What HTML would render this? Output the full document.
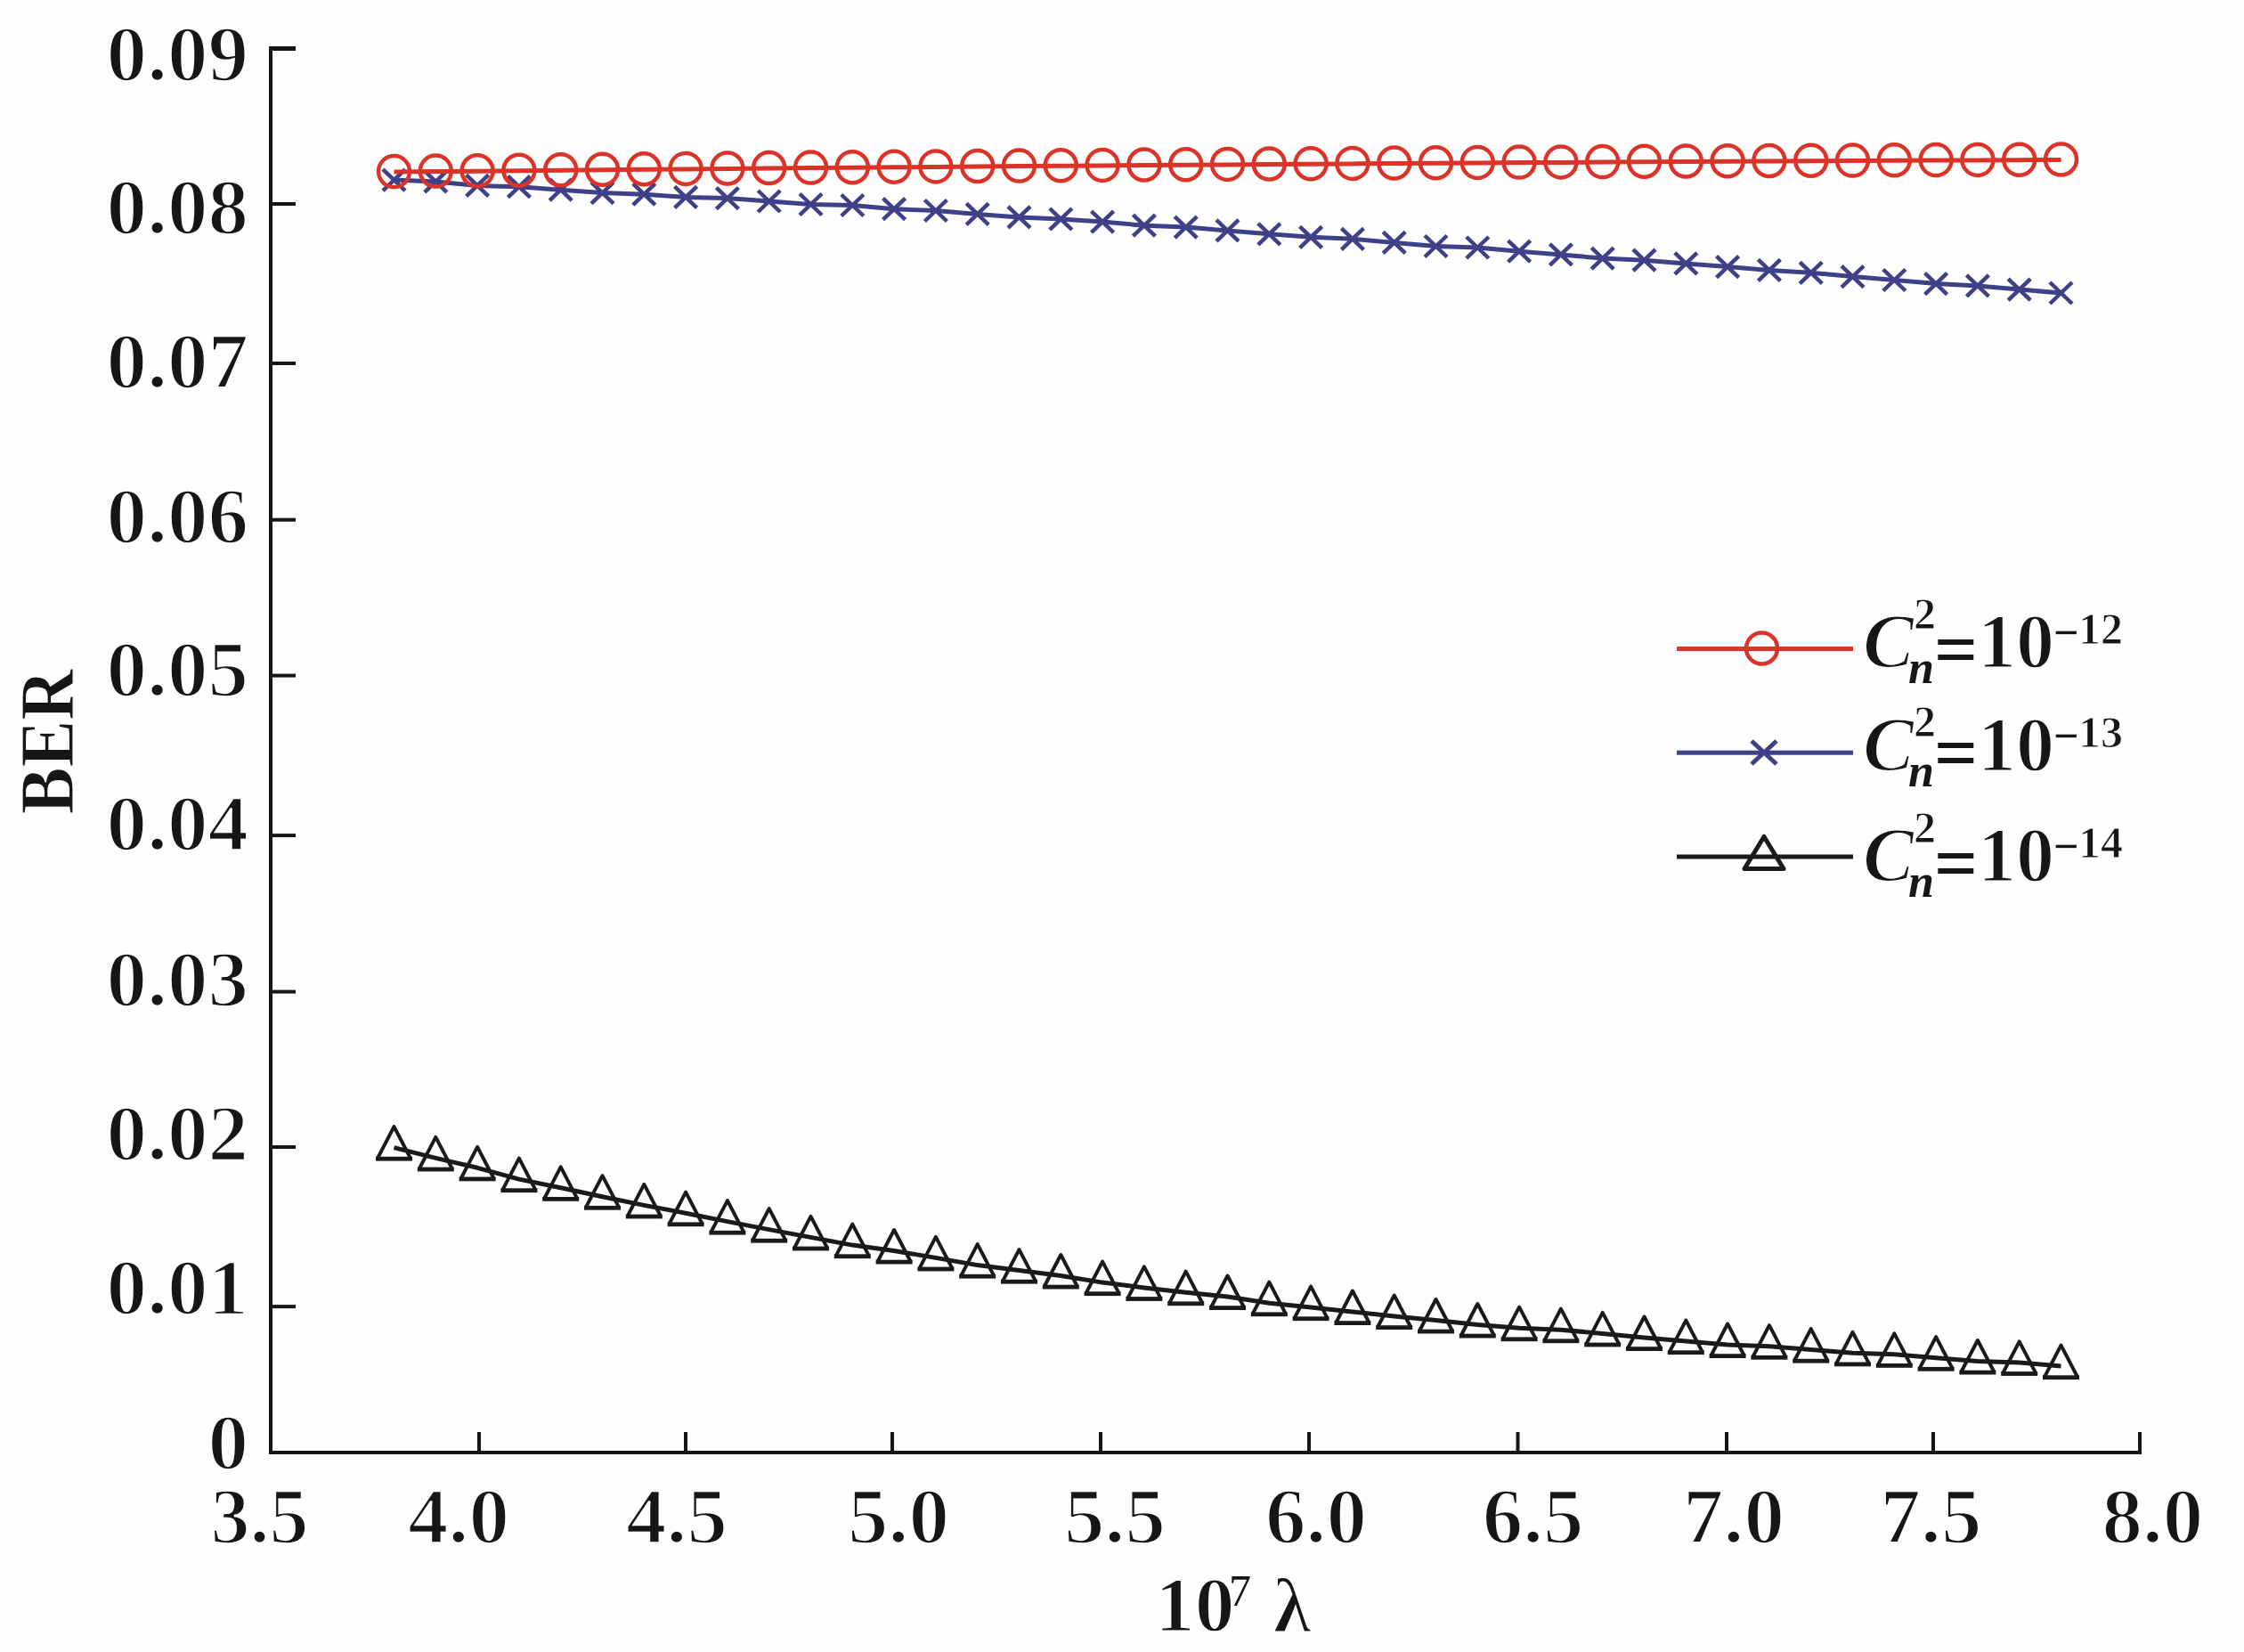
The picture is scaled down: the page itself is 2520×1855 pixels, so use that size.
<!DOCTYPE html><html><head><meta charset="utf-8"><style>html,body{margin:0;padding:0;background:#fff;} svg{display:block;} text{font-family:'Liberation Serif', serif;}</style></head><body>
<svg width="2520" height="1855" viewBox="0 0 2520 1855">
<rect width="2520" height="1855" fill="#fefefe"/>
<g fill="#161616">
<rect x="302" y="52" width="4" height="1581"/>
<rect x="302" y="1629" width="2103" height="4"/>
<rect x="304" y="52.0" width="28" height="5"/>
<rect x="304" y="227.0" width="28" height="4"/>
<rect x="304" y="406.0" width="28" height="4"/>
<rect x="304" y="581.7" width="28" height="4"/>
<rect x="304" y="756.6" width="28" height="4"/>
<rect x="304" y="936.1" width="28" height="4"/>
<rect x="304" y="1111.6" width="28" height="4"/>
<rect x="304" y="1286.0" width="28" height="4"/>
<rect x="304" y="1465.1" width="28" height="4"/>
<rect x="536.0" y="1608" width="4" height="23"/>
<rect x="768.0" y="1608" width="4" height="23"/>
<rect x="1000.0" y="1608" width="4" height="23"/>
<rect x="1234.0" y="1608" width="4" height="23"/>
<rect x="1468.0" y="1608" width="4" height="23"/>
<rect x="1702.5" y="1608" width="4" height="23"/>
<rect x="1937.0" y="1608" width="4" height="23"/>
<rect x="2169.0" y="1608" width="4" height="23"/>
<rect x="2401.0" y="1608" width="4" height="23"/>
</g>
<g font-weight="bold" font-size="88" fill="#161616" text-anchor="end" stroke="#fefefe" stroke-width="2.4">
<text transform="translate(279,89.6) scale(1.035,1)">0.09</text>
<text transform="translate(279,262.3) scale(1.035,1)">0.08</text>
<text transform="translate(279,435.0) scale(1.035,1)">0.07</text>
<text transform="translate(279,609.0) scale(1.035,1)">0.06</text>
<text transform="translate(279,781.3) scale(1.035,1)">0.05</text>
<text transform="translate(279,954.4) scale(1.035,1)">0.04</text>
<text transform="translate(279,1129.0) scale(1.035,1)">0.03</text>
<text transform="translate(279,1301.7) scale(1.035,1)">0.02</text>
<text transform="translate(279,1475.4) scale(1.035,1)">0.01</text>
<text transform="translate(279,1648.6) scale(1.035,1)">0</text>
</g>
<g font-weight="bold" font-size="88" fill="#161616" text-anchor="middle" stroke="#fefefe" stroke-width="2.4">
<text transform="translate(291.4,1732) scale(1.0,1)">3.5</text>
<text transform="translate(515.0,1732) scale(1.035,1)">4.0</text>
<text transform="translate(760.0,1732) scale(1.035,1)">4.5</text>
<text transform="translate(1009.0,1732) scale(1.035,1)">5.0</text>
<text transform="translate(1252.0,1732) scale(1.035,1)">5.5</text>
<text transform="translate(1478.0,1732) scale(1.035,1)">6.0</text>
<text transform="translate(1721.6,1732) scale(1.035,1)">6.5</text>
<text transform="translate(1947.0,1732) scale(1.035,1)">7.0</text>
<text transform="translate(2168.5,1732) scale(1.035,1)">7.5</text>
<text transform="translate(2417.4,1732) scale(1.035,1)">8.0</text>
</g>
<text transform="translate(81.5,833) rotate(-90) scale(0.92,1)" text-anchor="middle" font-weight="bold" font-size="86" fill="#161616" stroke="#fefefe" stroke-width="1.2">BER</text>
<g fill="#161616" font-size="86" stroke="#fefefe" stroke-width="2">
<text transform="translate(1297,1831) scale(1.04,1)" font-weight="bold">10</text>
<text x="1380" y="1803" font-size="50" stroke="none">7</text>
<text x="1430" y="1832" font-weight="bold">λ</text>
</g>
<polyline points="442.5,1288.6 489.3,1300.4 536.1,1311.3 582.9,1324.1 629.7,1333.8 676.5,1343.7 723.3,1353.4 770.1,1362.2 816.9,1371.6 863.7,1380.6 910.5,1389.4 957.3,1398.1 1004.1,1404.5 1050.9,1412.4 1097.7,1420.6 1144.5,1426.6 1191.3,1432.5 1238.1,1440.1 1284.9,1445.9 1331.7,1451.2 1378.5,1456.0 1425.3,1463.2 1472.1,1468.1 1518.9,1473.0 1565.7,1478.0 1612.5,1482.5 1659.3,1487.5 1706.1,1491.2 1752.9,1493.2 1799.7,1497.4 1846.5,1502.0 1893.3,1506.1 1940.1,1510.0 1986.9,1511.7 2033.7,1515.6 2080.5,1519.3 2127.3,1520.8 2174.1,1524.7 2220.9,1528.5 2267.7,1529.9 2314.5,1534.1" fill="none" stroke="#1a1a1a" stroke-width="5" stroke-linejoin="round"/>
<g fill="none" stroke="#1a1a1a" stroke-width="4" stroke-linejoin="round">
<path d="M424.0,1300.6 L442.5,1265.1 L461.0,1300.6"/>
<path d="M470.8,1312.4 L489.3,1276.9 L507.8,1312.4"/>
<path d="M517.6,1323.3 L536.1,1287.8 L554.6,1323.3"/>
<path d="M564.4,1336.1 L582.9,1300.6 L601.4,1336.1"/>
<path d="M611.2,1345.8 L629.7,1310.3 L648.2,1345.8"/>
<path d="M658.0,1355.7 L676.5,1320.2 L695.0,1355.7"/>
<path d="M704.8,1365.4 L723.3,1329.9 L741.8,1365.4"/>
<path d="M751.6,1374.2 L770.1,1338.7 L788.6,1374.2"/>
<path d="M798.4,1383.6 L816.9,1348.1 L835.4,1383.6"/>
<path d="M845.2,1392.6 L863.7,1357.1 L882.2,1392.6"/>
<path d="M892.0,1401.4 L910.5,1365.9 L929.0,1401.4"/>
<path d="M938.8,1410.1 L957.3,1374.6 L975.8,1410.1"/>
<path d="M985.6,1416.5 L1004.1,1381.0 L1022.6,1416.5"/>
<path d="M1032.4,1424.4 L1050.9,1388.9 L1069.4,1424.4"/>
<path d="M1079.2,1432.6 L1097.7,1397.1 L1116.2,1432.6"/>
<path d="M1126.0,1438.6 L1144.5,1403.1 L1163.0,1438.6"/>
<path d="M1172.8,1444.5 L1191.3,1409.0 L1209.8,1444.5"/>
<path d="M1219.6,1452.1 L1238.1,1416.6 L1256.6,1452.1"/>
<path d="M1266.4,1457.9 L1284.9,1422.4 L1303.4,1457.9"/>
<path d="M1313.2,1463.2 L1331.7,1427.7 L1350.2,1463.2"/>
<path d="M1360.0,1468.0 L1378.5,1432.5 L1397.0,1468.0"/>
<path d="M1406.8,1475.2 L1425.3,1439.7 L1443.8,1475.2"/>
<path d="M1453.6,1480.1 L1472.1,1444.6 L1490.6,1480.1"/>
<path d="M1500.4,1485.0 L1518.9,1449.5 L1537.4,1485.0"/>
<path d="M1547.2,1490.0 L1565.7,1454.5 L1584.2,1490.0"/>
<path d="M1594.0,1494.5 L1612.5,1459.0 L1631.0,1494.5"/>
<path d="M1640.8,1499.5 L1659.3,1464.0 L1677.8,1499.5"/>
<path d="M1687.6,1503.2 L1706.1,1467.7 L1724.6,1503.2"/>
<path d="M1734.4,1505.2 L1752.9,1469.7 L1771.4,1505.2"/>
<path d="M1781.2,1509.4 L1799.7,1473.9 L1818.2,1509.4"/>
<path d="M1828.0,1514.0 L1846.5,1478.5 L1865.0,1514.0"/>
<path d="M1874.8,1518.1 L1893.3,1482.6 L1911.8,1518.1"/>
<path d="M1921.6,1522.0 L1940.1,1486.5 L1958.6,1522.0"/>
<path d="M1968.4,1523.7 L1986.9,1488.2 L2005.4,1523.7"/>
<path d="M2015.2,1527.6 L2033.7,1492.1 L2052.2,1527.6"/>
<path d="M2062.0,1531.3 L2080.5,1495.8 L2099.0,1531.3"/>
<path d="M2108.8,1532.8 L2127.3,1497.3 L2145.8,1532.8"/>
<path d="M2155.6,1536.7 L2174.1,1501.2 L2192.6,1536.7"/>
<path d="M2202.4,1540.5 L2220.9,1505.0 L2239.4,1540.5"/>
<path d="M2249.2,1541.9 L2267.7,1506.4 L2286.2,1541.9"/>
<path d="M2296.0,1546.1 L2314.5,1510.6 L2333.0,1546.1"/>
</g>
<g fill="#1a1a1a">
<rect x="422.0" y="1298.8" width="41" height="4.8"/>
<rect x="468.8" y="1310.6" width="41" height="4.8"/>
<rect x="515.6" y="1321.5" width="41" height="4.8"/>
<rect x="562.4" y="1334.3" width="41" height="4.8"/>
<rect x="609.2" y="1344.0" width="41" height="4.8"/>
<rect x="656.0" y="1353.9" width="41" height="4.8"/>
<rect x="702.8" y="1363.6" width="41" height="4.8"/>
<rect x="749.6" y="1372.4" width="41" height="4.8"/>
<rect x="796.4" y="1381.8" width="41" height="4.8"/>
<rect x="843.2" y="1390.8" width="41" height="4.8"/>
<rect x="890.0" y="1399.6" width="41" height="4.8"/>
<rect x="936.8" y="1408.3" width="41" height="4.8"/>
<rect x="983.6" y="1414.7" width="41" height="4.8"/>
<rect x="1030.4" y="1422.6" width="41" height="4.8"/>
<rect x="1077.2" y="1430.8" width="41" height="4.8"/>
<rect x="1124.0" y="1436.8" width="41" height="4.8"/>
<rect x="1170.8" y="1442.7" width="41" height="4.8"/>
<rect x="1217.6" y="1450.3" width="41" height="4.8"/>
<rect x="1264.4" y="1456.1" width="41" height="4.8"/>
<rect x="1311.2" y="1461.4" width="41" height="4.8"/>
<rect x="1358.0" y="1466.2" width="41" height="4.8"/>
<rect x="1404.8" y="1473.4" width="41" height="4.8"/>
<rect x="1451.6" y="1478.3" width="41" height="4.8"/>
<rect x="1498.4" y="1483.2" width="41" height="4.8"/>
<rect x="1545.2" y="1488.2" width="41" height="4.8"/>
<rect x="1592.0" y="1492.7" width="41" height="4.8"/>
<rect x="1638.8" y="1497.7" width="41" height="4.8"/>
<rect x="1685.6" y="1501.4" width="41" height="4.8"/>
<rect x="1732.4" y="1503.4" width="41" height="4.8"/>
<rect x="1779.2" y="1507.6" width="41" height="4.8"/>
<rect x="1826.0" y="1512.2" width="41" height="4.8"/>
<rect x="1872.8" y="1516.3" width="41" height="4.8"/>
<rect x="1919.6" y="1520.2" width="41" height="4.8"/>
<rect x="1966.4" y="1521.9" width="41" height="4.8"/>
<rect x="2013.2" y="1525.8" width="41" height="4.8"/>
<rect x="2060.0" y="1529.5" width="41" height="4.8"/>
<rect x="2106.8" y="1531.0" width="41" height="4.8"/>
<rect x="2153.6" y="1534.9" width="41" height="4.8"/>
<rect x="2200.4" y="1538.7" width="41" height="4.8"/>
<rect x="2247.2" y="1540.1" width="41" height="4.8"/>
<rect x="2294.0" y="1544.3" width="41" height="4.8"/>
</g>
<polyline points="442.5,202.1 489.3,203.9 536.1,208.4 582.9,209.7 629.7,213.2 676.5,216.6 723.3,218.2 770.1,221.4 816.9,222.6 863.7,226.0 910.5,229.5 957.3,230.5 1004.1,234.7 1050.9,236.5 1097.7,240.4 1144.5,243.9 1191.3,246.0 1238.1,249.1 1284.9,253.2 1331.7,255.1 1378.5,258.9 1425.3,262.8 1472.1,266.3 1518.9,268.3 1565.7,272.4 1612.5,276.5 1659.3,278.0 1706.1,282.2 1752.9,285.9 1799.7,290.1 1846.5,292.2 1893.3,295.9 1940.1,299.6 1986.9,303.4 2033.7,306.3 2080.5,310.6 2127.3,314.5 2174.1,318.6 2220.9,320.9 2267.7,325.1 2314.5,329.0" fill="none" stroke="#3e4088" stroke-width="5" stroke-linejoin="round"/>
<g fill="none" stroke="#3e4088" stroke-width="4.5">
<path d="M430.0,190.1 L455.0,214.1 M455.0,190.1 L430.0,214.1"/>
<path d="M476.8,191.9 L501.8,215.9 M501.8,191.9 L476.8,215.9"/>
<path d="M523.6,196.4 L548.6,220.4 M548.6,196.4 L523.6,220.4"/>
<path d="M570.4,197.7 L595.4,221.7 M595.4,197.7 L570.4,221.7"/>
<path d="M617.2,201.2 L642.2,225.2 M642.2,201.2 L617.2,225.2"/>
<path d="M664.0,204.6 L689.0,228.6 M689.0,204.6 L664.0,228.6"/>
<path d="M710.8,206.2 L735.8,230.2 M735.8,206.2 L710.8,230.2"/>
<path d="M757.6,209.4 L782.6,233.4 M782.6,209.4 L757.6,233.4"/>
<path d="M804.4,210.6 L829.4,234.6 M829.4,210.6 L804.4,234.6"/>
<path d="M851.2,214.0 L876.2,238.0 M876.2,214.0 L851.2,238.0"/>
<path d="M898.0,217.5 L923.0,241.5 M923.0,217.5 L898.0,241.5"/>
<path d="M944.8,218.5 L969.8,242.5 M969.8,218.5 L944.8,242.5"/>
<path d="M991.6,222.7 L1016.6,246.7 M1016.6,222.7 L991.6,246.7"/>
<path d="M1038.4,224.5 L1063.4,248.5 M1063.4,224.5 L1038.4,248.5"/>
<path d="M1085.2,228.4 L1110.2,252.4 M1110.2,228.4 L1085.2,252.4"/>
<path d="M1132.0,231.9 L1157.0,255.9 M1157.0,231.9 L1132.0,255.9"/>
<path d="M1178.8,234.0 L1203.8,258.0 M1203.8,234.0 L1178.8,258.0"/>
<path d="M1225.6,237.1 L1250.6,261.1 M1250.6,237.1 L1225.6,261.1"/>
<path d="M1272.4,241.2 L1297.4,265.2 M1297.4,241.2 L1272.4,265.2"/>
<path d="M1319.2,243.1 L1344.2,267.1 M1344.2,243.1 L1319.2,267.1"/>
<path d="M1366.0,246.9 L1391.0,270.9 M1391.0,246.9 L1366.0,270.9"/>
<path d="M1412.8,250.8 L1437.8,274.8 M1437.8,250.8 L1412.8,274.8"/>
<path d="M1459.6,254.3 L1484.6,278.3 M1484.6,254.3 L1459.6,278.3"/>
<path d="M1506.4,256.3 L1531.4,280.3 M1531.4,256.3 L1506.4,280.3"/>
<path d="M1553.2,260.4 L1578.2,284.4 M1578.2,260.4 L1553.2,284.4"/>
<path d="M1600.0,264.5 L1625.0,288.5 M1625.0,264.5 L1600.0,288.5"/>
<path d="M1646.8,266.0 L1671.8,290.0 M1671.8,266.0 L1646.8,290.0"/>
<path d="M1693.6,270.2 L1718.6,294.2 M1718.6,270.2 L1693.6,294.2"/>
<path d="M1740.4,273.9 L1765.4,297.9 M1765.4,273.9 L1740.4,297.9"/>
<path d="M1787.2,278.1 L1812.2,302.1 M1812.2,278.1 L1787.2,302.1"/>
<path d="M1834.0,280.2 L1859.0,304.2 M1859.0,280.2 L1834.0,304.2"/>
<path d="M1880.8,283.9 L1905.8,307.9 M1905.8,283.9 L1880.8,307.9"/>
<path d="M1927.6,287.6 L1952.6,311.6 M1952.6,287.6 L1927.6,311.6"/>
<path d="M1974.4,291.4 L1999.4,315.4 M1999.4,291.4 L1974.4,315.4"/>
<path d="M2021.2,294.3 L2046.2,318.3 M2046.2,294.3 L2021.2,318.3"/>
<path d="M2068.0,298.6 L2093.0,322.6 M2093.0,298.6 L2068.0,322.6"/>
<path d="M2114.8,302.5 L2139.8,326.5 M2139.8,302.5 L2114.8,326.5"/>
<path d="M2161.6,306.6 L2186.6,330.6 M2186.6,306.6 L2161.6,330.6"/>
<path d="M2208.4,308.9 L2233.4,332.9 M2233.4,308.9 L2208.4,332.9"/>
<path d="M2255.2,313.1 L2280.2,337.1 M2280.2,313.1 L2255.2,337.1"/>
<path d="M2302.0,317.0 L2327.0,341.0 M2327.0,317.0 L2302.0,341.0"/>
</g>
<polyline points="442.5,193.1 489.3,192.6 536.1,192.2 582.9,191.7 629.7,191.2 676.5,190.8 723.3,190.3 770.1,189.9 816.9,189.5 863.7,189.0 910.5,188.6 957.3,188.2 1004.1,187.8 1050.9,187.4 1097.7,187.0 1144.5,186.6 1191.3,186.3 1238.1,185.9 1284.9,185.5 1331.7,185.2 1378.5,184.9 1425.3,184.5 1472.1,184.2 1518.9,183.9 1565.7,183.5 1612.5,183.2 1659.3,182.9 1706.1,182.6 1752.9,182.4 1799.7,182.1 1846.5,181.8 1893.3,181.5 1940.1,181.3 1986.9,181.0 2033.7,180.8 2080.5,180.6 2127.3,180.3 2174.1,180.1 2220.9,179.9 2267.7,179.7 2314.5,179.5" fill="none" stroke="#dc3328" stroke-width="5" stroke-linejoin="round"/>
<g fill="none" stroke="#dc3328" stroke-width="4.5">
<circle cx="442.5" cy="192.6" r="17.5"/>
<circle cx="489.3" cy="192.1" r="17.5"/>
<circle cx="536.1" cy="191.7" r="17.5"/>
<circle cx="582.9" cy="191.2" r="17.5"/>
<circle cx="629.7" cy="190.7" r="17.5"/>
<circle cx="676.5" cy="190.3" r="17.5"/>
<circle cx="723.3" cy="189.8" r="17.5"/>
<circle cx="770.1" cy="189.4" r="17.5"/>
<circle cx="816.9" cy="189.0" r="17.5"/>
<circle cx="863.7" cy="188.5" r="17.5"/>
<circle cx="910.5" cy="188.1" r="17.5"/>
<circle cx="957.3" cy="187.7" r="17.5"/>
<circle cx="1004.1" cy="187.3" r="17.5"/>
<circle cx="1050.9" cy="186.9" r="17.5"/>
<circle cx="1097.7" cy="186.5" r="17.5"/>
<circle cx="1144.5" cy="186.1" r="17.5"/>
<circle cx="1191.3" cy="185.8" r="17.5"/>
<circle cx="1238.1" cy="185.4" r="17.5"/>
<circle cx="1284.9" cy="185.0" r="17.5"/>
<circle cx="1331.7" cy="184.7" r="17.5"/>
<circle cx="1378.5" cy="184.4" r="17.5"/>
<circle cx="1425.3" cy="184.0" r="17.5"/>
<circle cx="1472.1" cy="183.7" r="17.5"/>
<circle cx="1518.9" cy="183.4" r="17.5"/>
<circle cx="1565.7" cy="183.0" r="17.5"/>
<circle cx="1612.5" cy="182.7" r="17.5"/>
<circle cx="1659.3" cy="182.4" r="17.5"/>
<circle cx="1706.1" cy="182.1" r="17.5"/>
<circle cx="1752.9" cy="181.9" r="17.5"/>
<circle cx="1799.7" cy="181.6" r="17.5"/>
<circle cx="1846.5" cy="181.3" r="17.5"/>
<circle cx="1893.3" cy="181.0" r="17.5"/>
<circle cx="1940.1" cy="180.8" r="17.5"/>
<circle cx="1986.9" cy="180.5" r="17.5"/>
<circle cx="2033.7" cy="180.3" r="17.5"/>
<circle cx="2080.5" cy="180.1" r="17.5"/>
<circle cx="2127.3" cy="179.8" r="17.5"/>
<circle cx="2174.1" cy="179.6" r="17.5"/>
<circle cx="2220.9" cy="179.4" r="17.5"/>
<circle cx="2267.7" cy="179.2" r="17.5"/>
<circle cx="2314.5" cy="179.0" r="17.5"/>
</g>
<rect x="1883" y="726.0" width="198" height="5" fill="#dc3328"/>
<circle cx="1978.5" cy="728" r="17.5" fill="none" stroke="#dc3328" stroke-width="4.5"/>
<rect x="1883" y="842.7" width="198" height="5" fill="#3e4088"/>
<path d="M1967,832 L1995,858 M1995,832 L1967,858" stroke="#3e4088" stroke-width="5" fill="none"/>
<rect x="1883" y="959.5" width="198" height="5" fill="#1a1a1a"/>
<path d="M1981,939.5 L2003,975.5 L1959,975.5 Z" stroke="#1a1a1a" stroke-width="5" fill="none" stroke-linejoin="round"/>
<g fill="#161616" stroke="#fefefe" stroke-width="2">
<text x="2092" y="749.0" font-size="86" font-weight="bold" font-style="italic">C</text>
<text x="2143" y="767.0" font-size="52" font-weight="bold" font-style="italic" stroke="none">n</text>
<text x="2149" y="706.0" font-size="50" font-weight="bold" stroke="#fefefe" stroke-width="1">2</text>
<text x="2172" y="758.0" font-size="86" font-weight="bold" stroke="none">=</text>
<text x="2221" y="749.0" font-size="86" font-weight="bold">10</text>
<text x="2306" y="727.0" font-size="50" font-weight="bold" stroke="none">−</text>
<text x="2334" y="723.0" font-size="50" font-weight="bold" stroke="#fefefe" stroke-width="1">12</text>
</g>
<g fill="#161616" stroke="#fefefe" stroke-width="2">
<text x="2092" y="864.6" font-size="86" font-weight="bold" font-style="italic">C</text>
<text x="2143" y="882.6" font-size="52" font-weight="bold" font-style="italic" stroke="none">n</text>
<text x="2149" y="826.6" font-size="50" font-weight="bold" stroke="#fefefe" stroke-width="1">2</text>
<text x="2172" y="873.6" font-size="86" font-weight="bold" stroke="none">=</text>
<text x="2221" y="864.6" font-size="86" font-weight="bold">10</text>
<text x="2306" y="842.6" font-size="50" font-weight="bold" stroke="none">−</text>
<text x="2334" y="838.6" font-size="50" font-weight="bold" stroke="#fefefe" stroke-width="1">13</text>
</g>
<g fill="#161616" stroke="#fefefe" stroke-width="2">
<text x="2092" y="989.0" font-size="86" font-weight="bold" font-style="italic">C</text>
<text x="2143" y="1007.0" font-size="52" font-weight="bold" font-style="italic" stroke="none">n</text>
<text x="2149" y="946.0" font-size="50" font-weight="bold" stroke="#fefefe" stroke-width="1">2</text>
<text x="2172" y="998.0" font-size="86" font-weight="bold" stroke="none">=</text>
<text x="2221" y="989.0" font-size="86" font-weight="bold">10</text>
<text x="2306" y="967.0" font-size="50" font-weight="bold" stroke="none">−</text>
<text x="2334" y="963.0" font-size="50" font-weight="bold" stroke="#fefefe" stroke-width="1">14</text>
</g>
</svg></body></html>
